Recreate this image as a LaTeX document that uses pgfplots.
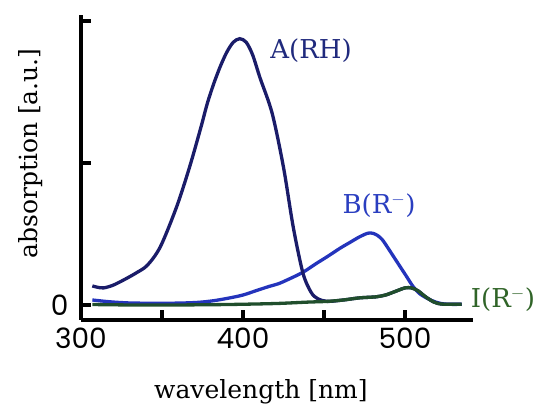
\documentclass[border=0pt]{standalone}
\usepackage{fontspec}
\setmainfont{DejaVu Serif}
\newfontfamily\tickfont{Poppins}
\usepackage{pgfplots}
\pgfplotsset{compat=1.18}
\definecolor{cA}{RGB}{26,28,105}
\definecolor{cB}{RGB}{36,52,188}
\definecolor{cI}{RGB}{32,78,44}
\definecolor{tA}{RGB}{32,42,125}
\definecolor{tB}{RGB}{42,62,192}
\definecolor{tI}{RGB}{48,100,40}
\begin{document}
\begin{tikzpicture}
\useasboundingbox (-81pt,-86pt) rectangle (454pt,320pt);
\begin{axis}[
  scale only axis, width=392pt, height=305pt,
  xmin=300, xmax=542, ymin=-0.106, ymax=2.042,
  axis x line=bottom, axis y line=left,
  axis line style={line width=4pt, -, black},
  xtick={300,350,400,450,500}, xticklabels={300,,400,,500},
  ytick={0,1,2}, yticklabels={0,,},
  tick align=inside, major tick length=10pt,
  tick style={line width=3.2pt, black},
  /pgf/number format/assume math mode=true,
  tick label style={font=\tickfont\fontsize{28}{30}\selectfont},
  xticklabel style={yshift=-4pt},
  yticklabel style={xshift=-9pt},
  xlabel={wavelength [nm]}, ylabel={absorption [a.u.]},
  label style={font=\fontsize{25}{30}\selectfont},
  xlabel style={at={(axis description cs:0.459,-0.256)}, anchor=base},
  ylabel style={at={(axis description cs:-0.1097,0.546)}, anchor=base},
  clip=false,
  every axis plot/.append style={line width=3.3pt, smooth, tension=0.5},
]
\addplot[cB] coordinates {
(307,0.035)(318,0.022)(330,0.014)(345,0.012)(360,0.013)(372,0.018)(382,0.03)
(392,0.05)(400,0.07)(408,0.1)(416,0.13)(422,0.15)(428,0.18)(437,0.23)(445,0.29)
(452,0.34)(460,0.40)(466,0.44)(472,0.48)(477,0.505)(480,0.505)(483,0.49)(486,0.46)
(489,0.41)(493,0.34)(497,0.27)(501,0.20)(505,0.13)(509,0.08)(514,0.045)(519,0.02)
(524,0.007)(530,0.004)(535,0.005)};
\addplot[cA] coordinates {
(307,0.134)(310,0.125)(314,0.12)(320,0.14)(327,0.18)(334,0.225)(341,0.28)(349,0.41)
(359,0.69)(367,0.97)(374,1.25)(378,1.42)(382,1.56)(386,1.68)(390,1.78)(394,1.85)
(398,1.875)(402,1.85)(406,1.76)(410.5,1.6)(418,1.35)(425,0.97)(431,0.55)(437,0.225)
(442,0.09)(446,0.045)(452,0.025)(462,0.035)(472,0.05)(482,0.057)(488,0.07)(494,0.095)
(500,0.12)(504,0.12)(508,0.1)(513,0.055)(518,0.02)(523,0.006)(535,0.005)};
\addplot[cI] coordinates {
(307,0.003)(330,0.0)(360,0.0)(390,0.003)(420,0.01)(440,0.02)(452,0.025)(462,0.035)
(472,0.05)(482,0.057)(488,0.07)(494,0.095)(500,0.12)(504,0.12)(508,0.1)(513,0.055)
(518,0.02)(523,0.006)(535,0.005)};
\node[tA, font=\fontsize{26}{30}\selectfont] at (axis cs:442,1.79) {A(RH)};
\node[tB, font=\fontsize{26}{30}\selectfont] at (axis cs:484,0.697) {B(R$^{-}$)};
\node[tI, font=\fontsize{26}{30}\selectfont] at (axis cs:560.5,0.035) {I(R$^{-}$)};
\end{axis}
\end{tikzpicture}
\end{document}
